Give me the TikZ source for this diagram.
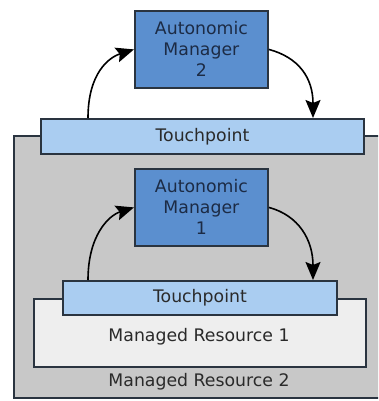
\documentclass[tikz,border=0pt]{standalone}
\usepackage{fontspec}
\setmainfont{DejaVu Sans}
\usetikzlibrary{arrows.meta,calc}
\definecolor{amfill}{HTML}{5B8FCF}
\definecolor{tpfill}{HTML}{AACDF1}
\definecolor{mrtwo}{HTML}{C8C8C8}
\definecolor{mrone}{HTML}{EEEEEE}
\definecolor{edge}{HTML}{2A3440}
\definecolor{amtext}{HTML}{1C2B45}
\definecolor{txt}{HTML}{2A2A2A}
\tikzset{
  box/.style={draw=edge, line width=1.8pt, inner sep=0pt, anchor=north west},
  ambox/.style={box, fill=amfill, text=amtext, align=center, minimum width=133pt, minimum height=77pt, font=\fontsize{17.3}{21}\selectfont},
  tpbox/.style={box, fill=tpfill, text=txt, font=\fontsize{17.3}{20}\selectfont},
  lbl/.style={text=txt, font=\fontsize{17.3}{20}\selectfont},
  flow/.style={line width=1.6pt, draw=black, -{Stealth[length=18pt,width=15pt,inset=3pt]}}
}
\begin{document}
\begin{tikzpicture}[x=1pt,y=-1pt]
\useasboundingbox (0,0) rectangle (378,401);
\clip (0,0) rectangle (378,401);
\node[box, fill=mrtwo, minimum width=380pt, minimum height=262pt] (mr2) at (13,135) {};
\node[lbl] (mr2t) at (199,382) {Managed Resource 2};
\node[tpbox, minimum width=323pt, minimum height=35pt] (tp2) at (40,118) {Touchpoint};
\node[ambox] (am2) at (134,10) {Autonomic\\Manager\\2};
\node[ambox] (am1) at (134,168) {Autonomic\\Manager\\1};
\node[box, fill=mrone, minimum width=332pt, minimum height=68pt] (mr1) at (33,298) {};
\node[lbl] (mr1t) at (199,337) {Managed Resource 1};
\node[tpbox, minimum width=274pt, minimum height=34pt] (tp1) at (62,280) {Touchpoint};
\coordinate (a2s) at ($(tp2.north west)+(48,0)$);
\coordinate (a2e) at ($(tp2.north west)+(273,0)$);
\coordinate (a1s) at ($(tp1.north west)+(26,0)$);
\coordinate (a1e) at ($(tp1.north west)+(251,0)$);
\draw[flow] (a2s) .. controls ($(a2s)+(0,-45)$) and ($(am2.west)+(-25,8)$) .. (am2.west);
\draw[flow] (am2.east) .. controls ($(am2.east)+(30,8)$) and ($(a2e)+(0,-40)$) .. (a2e);
\draw[flow] (a1s) .. controls ($(a1s)+(0,-45)$) and ($(am1.west)+(-25,8)$) .. (am1.west);
\draw[flow] (am1.east) .. controls ($(am1.east)+(30,8)$) and ($(a1e)+(0,-40)$) .. (a1e);
\end{tikzpicture}
\end{document}
